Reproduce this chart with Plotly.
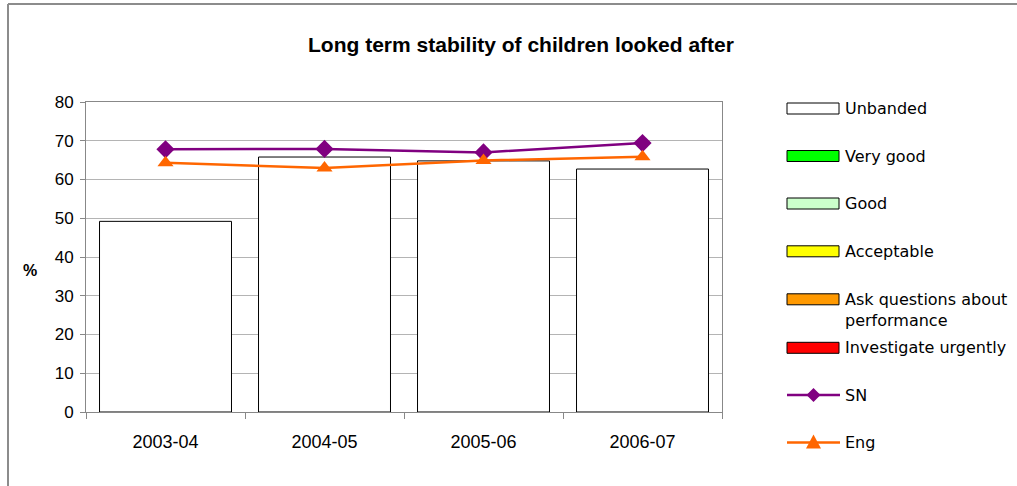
import plotly.graph_objects as go

years = ["2003-04", "2004-05", "2005-06", "2006-07"]
unbanded = [49.2, 65.8, 64.8, 62.7]
sn = [67.8, 67.9, 67.0, 69.4]
eng = [64.3, 63.0, 64.9, 65.9]

band_names = ["Unbanded", "Very good", "Good", "Acceptable",
              "Ask questions about<br>performance", "Investigate urgently"]
band_colors = ["#ffffff", "#00ff00", "#ccffcc", "#ffff00", "#ff9900", "#ff0000"]

W, H = 1017, 486
L, R, T, B = 86, 722, 102, 412  # pixel positions of plot area

def px(x):
    return (x - L) / (R - L)

def py(y):
    return (B - y) / (B - T)

fig = go.Figure()
fig.add_trace(go.Bar(x=years, y=unbanded, name="Unbanded",
                     marker=dict(color="#ffffff", line=dict(color="#000000", width=1)),
                     showlegend=False))
fig.add_trace(go.Scatter(x=years, y=sn, name="SN", mode="lines+markers",
                         line=dict(color="#800080", width=2.5),
                         marker=dict(symbol="diamond", size=14, color="#800080"),
                         showlegend=False))
fig.add_trace(go.Scatter(x=years, y=eng, name="Eng", mode="lines+markers",
                         line=dict(color="#ff6600", width=2.5),
                         marker=dict(symbol="triangle-up", size=14, color="#ff6600"),
                         showlegend=False))

shapes = []
annotations = []
font_leg = dict(family="DejaVu Sans", size=16, color="#000000")

leg_y = [108.5, 156, 203.5, 251.3, 299.3, 347.8]
for name, col, yc in zip(band_names, band_colors, leg_y):
    shapes.append(dict(type="rect", xref="paper", yref="paper",
                       x0=px(787), x1=px(839), y0=py(yc - 5.5), y1=py(yc + 5.5),
                       fillcolor=col, line=dict(color="#000000", width=1)))
    if "<br>" in name:
        annotations.append(dict(xref="paper", yref="paper", x=px(843), y=py(yc - 11),
                                xanchor="left", yanchor="top", text=name, showarrow=False,
                                align="left", font=font_leg))
    else:
        annotations.append(dict(xref="paper", yref="paper", x=px(843), y=py(yc),
                                xanchor="left", yanchor="middle", text=name, showarrow=False,
                                font=font_leg))

for name, col, yc, kind in [("SN", "#800080", 395, "diamond"), ("Eng", "#ff6600", 442.5, "tri")]:
    shapes.append(dict(type="line", xref="paper", yref="paper",
                       x0=px(787), x1=px(840), y0=py(yc), y1=py(yc),
                       line=dict(color=col, width=2.5)))
    if kind == "diamond":
        d = 7
        path = "M {} {} L {} {} L {} {} L {} {} Z".format(
            px(813.5), py(yc - d), px(813.5 + d), py(yc), px(813.5), py(yc + d), px(813.5 - d), py(yc))
    else:
        path = "M {} {} L {} {} L {} {} Z".format(
            px(813.5), py(yc - 8), px(813.5 + 7.5), py(yc + 6), px(813.5 - 7.5), py(yc + 6))
    shapes.append(dict(type="path", xref="paper", yref="paper", path=path,
                       fillcolor=col, line=dict(color=col, width=0)))
    annotations.append(dict(xref="paper", yref="paper", x=px(843), y=py(yc),
                            xanchor="left", yanchor="middle", text=name, showarrow=False,
                            font=font_leg))

# chart outer border (left and top)
shapes.append(dict(type="line", xref="paper", yref="paper",
                   x0=px(8), x1=px(8), y0=py(4), y1=py(490), line=dict(color="#8c8c8c", width=2)))
shapes.append(dict(type="line", xref="paper", yref="paper",
                   x0=px(8), x1=px(1030), y0=py(4), y1=py(4), line=dict(color="#8c8c8c", width=2)))

annotations.append(dict(xref="paper", yref="paper", x=px(30), y=py(270),
                        text="<b>%</b>", showarrow=False, xanchor="center", yanchor="middle",
                        font=dict(family="Liberation Sans", size=16, color="#000000")))

fig.update_layout(
    width=W, height=H,
    margin=dict(l=L, r=W - R, t=T, b=H - B, pad=0),
    paper_bgcolor="#ffffff", plot_bgcolor="#ffffff",
    title=dict(text="<b>Long term stability of children looked after</b>",
               x=521 / W, xanchor="center", y=1 - 45 / H, yanchor="middle",
               font=dict(family="Liberation Sans", size=21, color="#000000")),
    bargap=0.17,
    shapes=shapes,
    annotations=annotations,
    xaxis=dict(type="category", showgrid=False, ticks="outside", tickson="boundaries",
               ticklen=6, tickcolor="#888888", showline=True, linecolor="#888888",
               linewidth=1, mirror=True, ticklabelstandoff=13,
               tickfont=dict(family="Liberation Sans", size=18, color="#000000")),
    yaxis=dict(range=[0, 80], dtick=10, showgrid=True, gridcolor="#b4b4b4", gridwidth=1,
               ticks="outside", ticklen=5, tickcolor="#888888", showline=True,
               linecolor="#888888", linewidth=1, mirror=True, zeroline=False,
               ticklabelstandoff=3,
               tickfont=dict(family="Liberation Sans", size=17, color="#000000")),
)

fig.write_html("out.html", include_plotlyjs=True, config={"displayModeBar": False},
               post_script="document.body.style.margin='0';document.body.style.overflow='hidden';")
